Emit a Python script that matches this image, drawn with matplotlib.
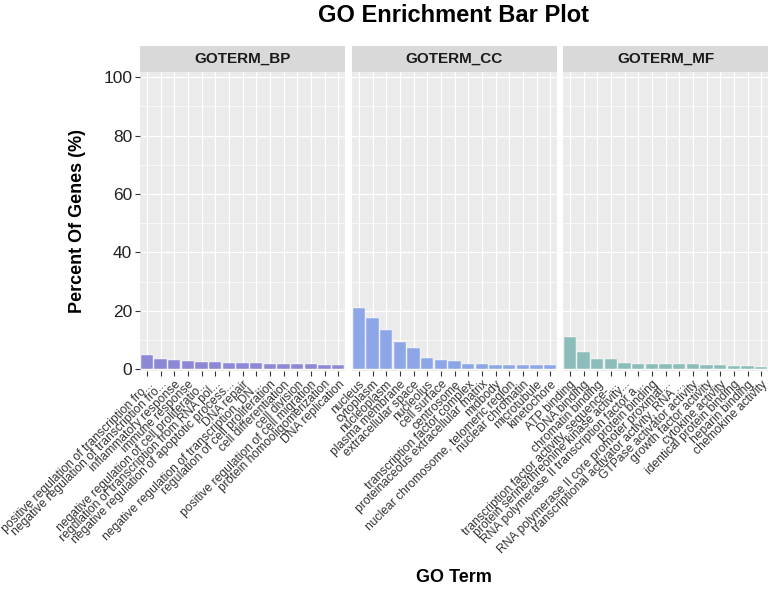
import matplotlib
matplotlib.use("Agg")
import matplotlib.pyplot as plt
import numpy as np

plt.rcParams['font.family'] = ['Liberation Sans', 'DejaVu Sans']

categories = ["GOTERM_BP", "GOTERM_CC", "GOTERM_MF"]

bp_terms = [
    "positive regulation of transcription fro...",
    "negative regulation of transcription fro...",
    "inflammatory response",
    "immune response",
    "negative regulation of cell proliferatio...",
    "regulation of transcription from RNA pol...",
    "negative regulation of apoptotic process...",
    "DNA repair",
    "negative regulation of transcription, DN...",
    "regulation of cell proliferation",
    "cell differentiation",
    "cell division",
    "positive regulation of cell migration",
    "protein homooligomerization",
    "DNA replication",
]
bp_values = [4.9, 3.4, 3.2, 2.7, 2.4, 2.4, 2.2, 2.1, 2.1, 1.8, 1.8, 1.7, 1.7, 1.5, 1.4]

cc_terms = [
    "nucleus",
    "cytoplasm",
    "nucleoplasm",
    "plasma membrane",
    "extracellular space",
    "nucleolus",
    "cell surface",
    "centrosome",
    "transcription factor complex",
    "proteinaceous extracellular matrix",
    "midbody",
    "nuclear chromosome, telomeric region",
    "nuclear chromatin",
    "microtubule",
    "kinetochore",
]
cc_values = [20.9, 17.7, 13.5, 9.3, 7.4, 4.0, 3.1, 2.8, 1.7, 1.7, 1.5, 1.5, 1.5, 1.5, 1.4]

mf_terms = [
    "ATP binding",
    "DNA binding",
    "chromatin binding",
    "transcription factor activity, sequence-...",
    "protein serine/threonine kinase activity...",
    "RNA polymerase II transcription factor a...",
    "protein binding",
    "RNA polymerase II core promoter proximal...",
    "transcriptional activator activity, RNA ...",
    "GTPase activator activity",
    "growth factor activity",
    "cytokine activity",
    "identical protein binding",
    "heparin binding",
    "chemokine activity",
]
mf_values = [11.1, 5.8, 3.5, 3.5, 2.3, 1.9, 1.9, 1.9, 1.8, 1.8, 1.6, 1.6, 1.1, 1.1, 0.8]

colors = ["#8C88D5", "#8CA6E8", "#8DBDBA"]
y_ticks = [0, 20, 40, 60, 80, 100]

W, H = 771, 592
fig = plt.figure(figsize=(W / 100, H / 100), dpi=100)

panel_x = [140, 352, 563]
panel_w = 205
panel_top, panel_bot = 72, 370.7
strip_top = 46

def fx(px):
    return px / W

def fy(py):
    return 1 - py / H

terms_all = [bp_terms, cc_terms, mf_terms]
vals_all = [bp_values, cc_values, mf_values]

for i, (cat, terms, vals, col) in enumerate(zip(categories, terms_all, vals_all, colors)):
    x0 = panel_x[i]
    ax = fig.add_axes([fx(x0), fy(panel_bot), fx(panel_w), (panel_bot - panel_top) / H])
    ax.set_facecolor("#EBEBEB")
    pos = np.arange(len(terms))
    ax.bar(pos, vals, width=0.9, color=col, edgecolor="#FFFFFF", linewidth=0.3, zorder=3)
    ax.set_xlim(-0.5, len(terms) - 0.5)
    ax.set_ylim(-0.5, 101.8)
    ax.set_yticks(y_ticks)
    ax.set_yticks([10, 30, 50, 70, 90], minor=True)
    ax.set_xticks(pos)
    ax.set_xticklabels(terms, rotation=45, ha="right", va="top", rotation_mode="anchor",
                       fontsize=8.7, color="#333333")
    ax.grid(True, which="major", color="white", linewidth=0.9, zorder=0)
    ax.grid(True, which="minor", axis="y", color="white", linewidth=0.45, zorder=0)
    ax.set_axisbelow(True)
    for s in ax.spines.values():
        s.set_visible(False)
    ax.tick_params(axis="x", length=3.5, width=0.8, color="#333333", pad=2)
    ax.tick_params(axis="y", which="minor", length=0)
    if i == 0:
        ax.tick_params(axis="y", length=3.5, width=0.8, color="#333333", pad=2,
                       labelsize=12.5, labelcolor="#222222")
    else:
        ax.tick_params(axis="y", length=0, labelleft=False)

    sax = fig.add_axes([fx(x0), fy(panel_top), fx(panel_w), (panel_top - strip_top) / H])
    sax.set_facecolor("#D9D9D9")
    sax.set_xticks([])
    sax.set_yticks([])
    for s in sax.spines.values():
        s.set_visible(False)
    sax.text(0.5, 0.5, cat, ha="center", va="center", fontsize=11, fontweight="bold",
             color="#1A1A1A", transform=sax.transAxes)

cx = (panel_x[0] + panel_x[2] + panel_w) / 2
fig.text(fx(cx), fy(16), "GO Enrichment Bar Plot", ha="center", va="center",
         fontsize=17, fontweight="bold")
fig.text(fx(77), fy((panel_top + panel_bot) / 2), "Percent Of Genes (%)", rotation=90,
         ha="center", va="center", fontsize=13, fontweight="bold")
fig.text(fx(cx), fy(577), "GO Term", ha="center", va="center", fontsize=13, fontweight="bold")

fig.savefig("out.png", dpi=100)
